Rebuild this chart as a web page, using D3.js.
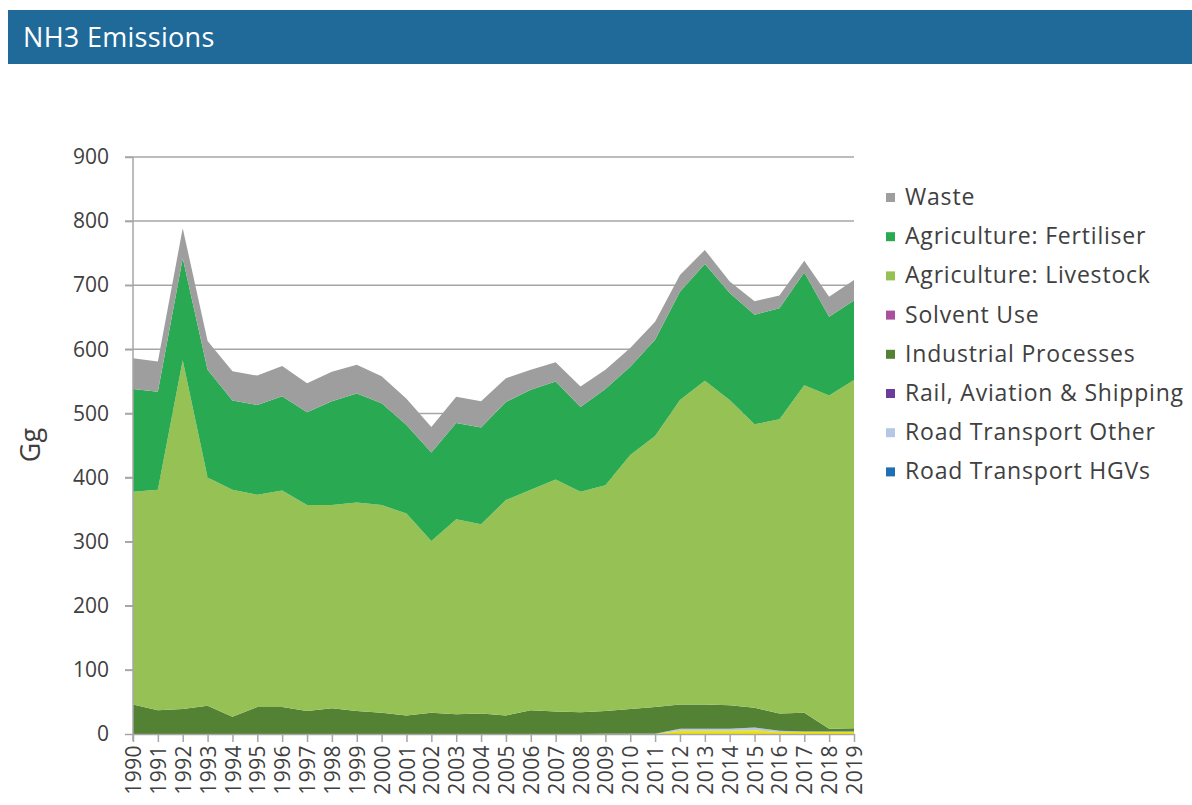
<!DOCTYPE html>
<html><head><meta charset="utf-8">
<script src="https://cdn.jsdelivr.net/npm/d3@7"></script>
<style>
body{margin:0;background:#fff;}
svg text{font-family:"Open Sans","Noto Sans",sans-serif;}
</style></head>
<body><svg id="c" width="1192" height="805"></svg>
<script>
const years = d3.range(1990, 2020);
const roadHGV      = years.map(() => 0);
const roadOther    = [0,0,0,0,0,0,0,0,0,0,0,0,0,0,0,0,0,0,0,0.5,0.5,0.5,3,3,3,4,2,1,1,1];
const railAvShip   = years.map(() => 0);
const industrial   = [46,37,39,44,27,42,42,36,40,36,33,29,33,31,32,29,37,35,34,35.5,38.5,41.5,38,38,37,31,27,29,4,5];
const solvent      = years.map(() => 0);
const livestock    = [332,344,544,356,354,331,338,321,317,325,324,315,268,304,295,336,344,362,344,352,396,423,475,505,476,442,459,511,520,543];
const fertiliser   = [160,153,159,168,139,140,147,145,162,170,159,138,138,150,151,153,156,153,132,150,138,150,169,182,167,171,173,176,123,124];
const waste        = [48,47,47,45,46,46,47,45,46,45,42,41,40,41,41,37,31,30,32,30,29,28,26,22,18,21,20,18,31,32];
const otherYellow  = [0,0,0,0,0,0,0,0,0,0,0,0,0,0,0,0,0,0,0,0,0,0,5,5,5,6,3,3,3,3];

const seriesNames = ["", "Road Transport HGVs","Road Transport Other","Rail, Aviation & Shipping","Industrial Processes","Solvent Use","Agriculture: Livestock","Agriculture: Fertiliser","Waste"];
const seriesData = [otherYellow, roadHGV, roadOther, railAvShip, industrial, solvent, livestock, fertiliser, waste];
const colors = ["#f2e400","#1f6fb4","#b4c7e7","#6a3d9a","#548235","#a9519f","#96c155","#28a952","#9e9e9e"];
const yTicks = [0,100,200,300,400,500,600,700,800,900];
const legendOrder = [8,7,6,5,4,3,2,1];

const rows = years.map((y,i) => { const r = {year:y}; seriesData.forEach((s,k)=> r["s"+k]=s[i]); return r; });
const keys = seriesData.map((_,k)=>"s"+k);
const stacked = d3.stack().keys(keys)(rows);

const FONT = "'Open Sans','Noto Sans',sans-serif";
const svg = d3.select("#c");
// header
svg.append("rect").attr("x",8).attr("y",10).attr("width",1184).attr("height",54).attr("fill","#1f6a99");
svg.append("text").attr("x",23).attr("y",47).attr("fill","#fff").attr("font-size",27).attr("letter-spacing",0.3).text("NH3 Emissions");

const x = d3.scaleLinear().domain([1990,2019]).range([133,854]);
const y = d3.scaleLinear().domain([0,900]).range([734,157]);

// gridlines
svg.append("g").selectAll("line").data(yTicks.filter(d=>d>0)).join("line")
  .attr("x1",125).attr("x2",854).attr("y1",d=>y(d)).attr("y2",d=>y(d))
  .attr("stroke","#a6a6a6").attr("stroke-width",1.5);

const area = d3.area().x(d=>x(d.data.year)).y0(d=>y(d[0])).y1(d=>y(d[1]));
svg.append("g").selectAll("path").data(stacked).join("path")
  .attr("d",area).attr("fill",(d,i)=>colors[i]);

// y axis
const ya = svg.append("g").attr("transform","translate(133,0)")
  .call(d3.axisLeft(y).tickValues(yTicks).tickSize(8).tickPadding(16));
ya.select(".domain").attr("stroke","#a6a6a6").attr("stroke-width",1.5).attr("d","M0,157V741");
ya.selectAll(".tick line").attr("stroke","#a6a6a6").attr("stroke-width",1.5);
ya.selectAll("text").attr("font-size",21).attr("fill","#404040").attr("font-family",FONT);

// x axis
const xa = svg.append("g").attr("transform","translate(0,734)")
  .call(d3.axisBottom(x).tickValues(years).tickFormat(d3.format("d")).tickSize(8).tickSizeOuter(0));
xa.select(".domain").attr("stroke","#a6a6a6").attr("stroke-width",1.5);
xa.selectAll(".tick line").attr("stroke","#a6a6a6").attr("stroke-width",1.5);
xa.selectAll("text").attr("font-size",21).attr("letter-spacing",0.4).attr("fill","#404040").attr("font-family",FONT)
  .attr("transform","rotate(-90)").attr("text-anchor","end").attr("dy","0.36em").attr("x",-11).attr("y",0);

// y label
svg.append("text").attr("transform","translate(40,445) rotate(-90)").attr("text-anchor","middle")
  .attr("font-size",27).attr("fill","#404040").text("Gg");

// legend
const lg = svg.append("g");
legendOrder.forEach((k,i)=>{
  const yy = 197 + i*39.2;
  lg.append("rect").attr("x",886).attr("y",yy-4).attr("width",9).attr("height",9).attr("fill",colors[k]);
  lg.append("text").attr("x",905).attr("y",yy).attr("dy","0.35em").attr("font-size",23).attr("letter-spacing",0.8).attr("fill","#404040").text(seriesNames[k]);
});
</script></body></html>
